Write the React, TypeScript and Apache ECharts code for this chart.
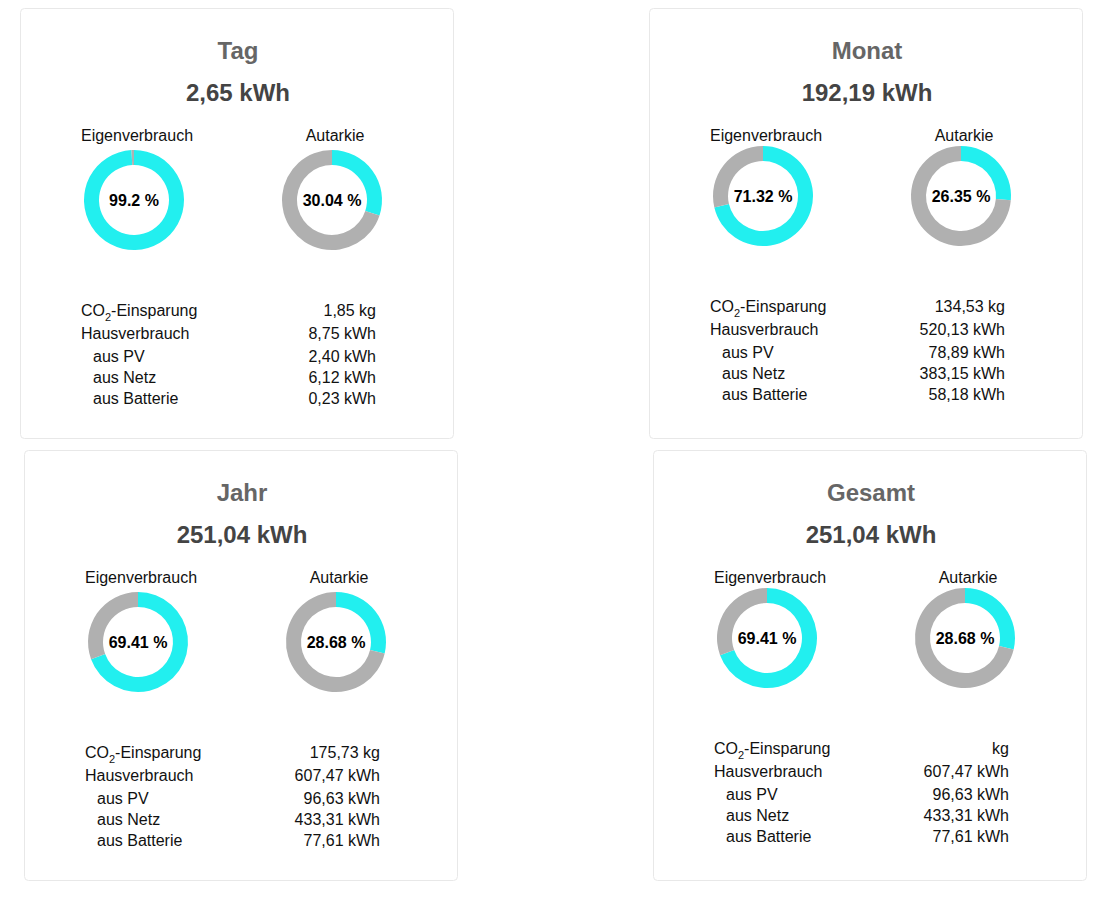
import React, { useEffect, useRef } from "react";
import * as echarts from "echarts";

// ---- data ----
const periods = ["Tag", "Monat", "Jahr", "Gesamt"];
const totals = [2.65, 192.19, 251.04, 251.04];
const eigenverbrauch = [99.2, 71.32, 69.41, 69.41];
const autarkie = [30.04, 26.35, 28.68, 28.68];
const co2Einsparung: (number | null)[] = [1.85, 134.53, 175.73, null];
const hausverbrauch = [8.75, 520.13, 607.47, 607.47];
const ausPV = [2.4, 78.89, 96.63, 96.63];
const ausNetz = [6.12, 383.15, 433.31, 433.31];
const ausBatterie = [0.23, 58.18, 77.61, 77.61];
const donutLabels = ["Eigenverbrauch", "Autarkie"];

// ---- layout ----
const cardOrigins = [
  [20, 8],
  [649, 8],
  [24, 450],
  [653, 450],
];
const contentShift = [0, -4, 0, -4];
const CARD_W = 433;
const CARD_H = 430;

const FONT = "'Liberation Sans', Arial, sans-serif";
const CYAN = "#22EFEF";
const GREY = "#B0B0B0";

const de = (v: number) => v.toFixed(2).replace(".", ",");

export default function App() {
  const ref = useRef<HTMLDivElement>(null);
  useEffect(() => {
    if (!ref.current) return;
    const chart = echarts.init(ref.current, null, { renderer: "svg" });
    const graphics: any[] = [];
    const series: any[] = [];

    periods.forEach((p, i) => {
      const [x0, y0] = cardOrigins[i];
      const sh = contentShift[i];
      graphics.push({
        type: "rect",
        shape: { x: x0 + 0.5, y: y0 + 0.5, width: CARD_W, height: CARD_H, r: 4 },
        style: { fill: "#fff", stroke: "#e8e8e8", lineWidth: 1 },
        z: 0,
      });
      graphics.push({
        type: "text",
        x: x0 + 218,
        y: y0 + 42,
        style: {
          text: p,
          font: `bold 24px ${FONT}`,
          fill: "#666666",
          align: "center",
          verticalAlign: "middle",
        },
        z: 2,
      });
      graphics.push({
        type: "text",
        x: x0 + 218,
        y: y0 + 84,
        style: {
          text: `${de(totals[i])} kWh`,
          font: `bold 24px ${FONT}`,
          fill: "#444444",
          align: "center",
          verticalAlign: "middle",
        },
        z: 2,
      });
      const donutX = [x0 + 114, x0 + 312];
      const values = [eigenverbrauch[i], autarkie[i]];
      donutLabels.forEach((lbl, k) => {
        graphics.push({
          type: "text",
          x: donutX[k] + 3,
          y: y0 + 127,
          style: {
            text: lbl,
            font: `16px ${FONT}`,
            fill: "#111",
            align: "center",
            verticalAlign: "middle",
          },
          z: 2,
        });
        series.push({
          type: "pie",
          silent: true,
          center: [donutX[k], y0 + 192 + sh],
          radius: [35, 50],
          startAngle: 90,
          clockwise: true,
          z: 3,
          labelLine: { show: false },
          emphasis: { disabled: true },
          data: [
            {
              value: values[k],
              itemStyle: { color: CYAN },
              label: {
                show: true,
                position: "center",
                formatter: `${values[k]} %`,
                fontFamily: FONT,
                fontSize: 16,
                fontWeight: "bold",
                color: "#000",
              },
            },
            {
              value: +(100 - values[k]).toFixed(2),
              itemStyle: { color: GREY },
              label: { show: false },
            },
          ],
        });
      });
      const rowY = [0, 23, 46, 67, 88].map((d) => y0 + 302 + sh + d);
      const rows = [
        { label: "{a|CO}{s|2}{a|-Einsparung}", value: co2Einsparung[i] == null ? "kg" : `${de(co2Einsparung[i] as number)} kg`, indent: 0 },
        { label: "{a|Hausverbrauch}", value: `${de(hausverbrauch[i])} kWh`, indent: 0 },
        { label: "{a|aus PV}", value: `${de(ausPV[i])} kWh`, indent: 12 },
        { label: "{a|aus Netz}", value: `${de(ausNetz[i])} kWh`, indent: 12 },
        { label: "{a|aus Batterie}", value: `${de(ausBatterie[i])} kWh`, indent: 12 },
      ];
      rows.forEach((r, j) => {
        graphics.push({
          type: "text",
          x: x0 + 61 + r.indent,
          y: rowY[j],
          style: {
            text: r.label,
            align: "left",
            verticalAlign: "middle",
            rich: {
              a: { fontFamily: FONT, fontSize: 16, fill: "#111", color: "#111", lineHeight: 20 },
              s: { fontFamily: FONT, fontSize: 11, fill: "#111", color: "#111", lineHeight: 12, padding: [13, 0, 0, 0] },
            },
          },
          z: 2,
        });
        graphics.push({
          type: "text",
          x: x0 + 356,
          y: rowY[j],
          style: {
            text: r.value,
            font: `16px ${FONT}`,
            fill: "#111",
            align: "right",
            verticalAlign: "middle",
          },
          z: 2,
        });
      });
    });

    chart.setOption({
      animation: false,
      backgroundColor: "#ffffff",
      graphic: { elements: graphics },
      series,
    });
    return () => chart.dispose();
  }, []);
  return (
    <div
      ref={ref}
      style={{ position: "fixed", left: 0, top: 0, width: 1119, height: 908 }}
    />
  );
}
